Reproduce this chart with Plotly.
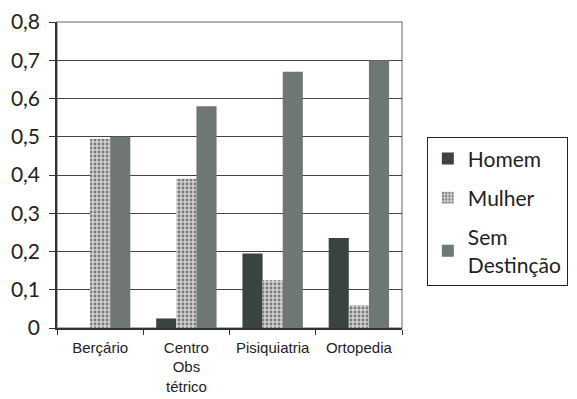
import plotly.graph_objects as go

categories = ["Berçário", "Centro<br>Obs<br>tétrico", "Pisiquiatria", "Ortopedia"]
homem = [0.0, 0.025, 0.195, 0.235]
mulher = [0.495, 0.39, 0.125, 0.06]
sem_destincao = [0.50, 0.58, 0.67, 0.70]
y_tickvals = [0, 0.1, 0.2, 0.3, 0.4, 0.5, 0.6, 0.7, 0.8]
y_ticktext = ["0", "0,1", "0,2", "0,3", "0,4", "0,5", "0,6", "0,7", "0,8"]

fig = go.Figure()
fig.add_trace(go.Bar(name="Homem", x=categories, y=homem,
                     marker=dict(color="#3a4341", line=dict(width=0)),
                     legendgroup="a"))
fig.add_trace(go.Bar(name="Mulher", x=categories, y=mulher,
                     marker=dict(color="#c4c4c4", line=dict(width=0),
                                 pattern=dict(shape=".", fgcolor="#7a7a7a", bgcolor="#d2d2d2",
                                              size=4, solidity=0.4, fillmode="replace")),
                     legendgroup="b"))
fig.add_trace(go.Bar(name="Sem<br>Destinção", x=categories, y=sem_destincao,
                     marker=dict(color="#6e7676", line=dict(width=0)),
                     legendgroup="c"))

fig.update_layout(
    width=577, height=399,
    margin=dict(l=49, r=183, t=14, b=79),
    paper_bgcolor="white", plot_bgcolor="white",
    barmode="group", bargap=0.3, bargroupgap=0,
    font=dict(family="Lato", color="#222"),
    legend=dict(x=1.072, y=0.623, xanchor="left", yanchor="top",
                bordercolor="#222", borderwidth=1, bgcolor="white",
                font=dict(family="Lato", size=21, color="#222"),
                traceorder="grouped", tracegroupgap=9, entrywidth=148),
    xaxis=dict(showline=True, linecolor="#333", linewidth=1.5, automargin=False,
               ticks="outside", ticklen=5, tickcolor="#333", tickson="boundaries",
               ticklabelstandoff=5, ticklabeloverflow="allow",
               tickfont=dict(family="Liberation Sans", size=15, color="#222"),
               showgrid=False),
    yaxis=dict(range=[0, 0.8], tickvals=y_tickvals, ticktext=y_ticktext, automargin=False,
               showline=True, linecolor="#333", linewidth=1.5,
               ticks="outside", ticklen=6, tickcolor="#333", ticklabelstandoff=5,
               ticklabeloverflow="allow",
               tickfont=dict(family="Lato", size=21, color="#222"),
               showgrid=True, gridcolor="#444", gridwidth=1, zeroline=False),
    shapes=[dict(type="rect", xref="paper", yref="paper", x0=0, x1=1, y0=0, y1=1,
                 line=dict(color="#999", width=1.5), layer="below")],
)

fig.write_html("out.html")
